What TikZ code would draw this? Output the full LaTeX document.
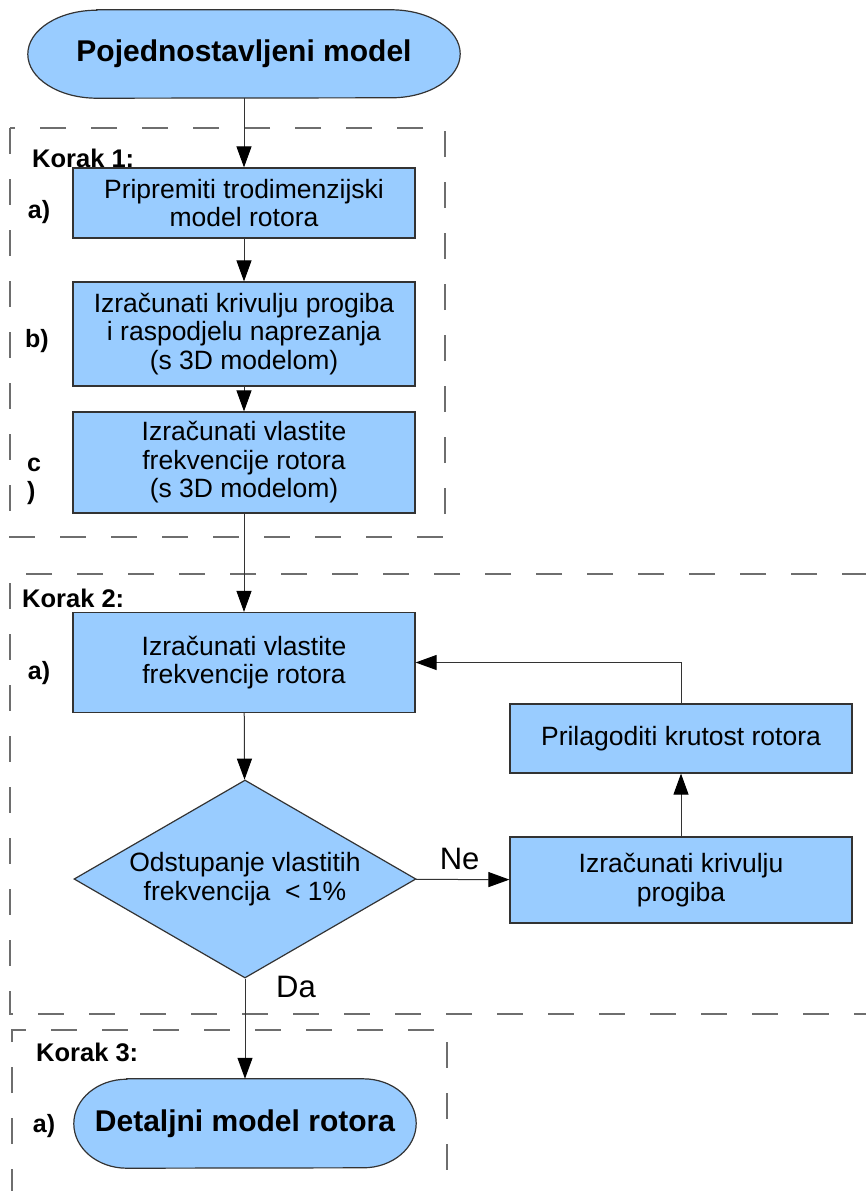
\documentclass[tikz,border=0pt]{standalone}
\usepackage{fontspec}
\setmainfont{Liberation Sans}
\usepackage{tikz}
\usetikzlibrary{arrows.meta, shapes.geometric, backgrounds}
\definecolor{boxblue}{RGB}{153, 204, 255}
\definecolor{edge}{RGB}{51, 51, 51}
\definecolor{dashgray}{RGB}{110, 110, 110}

\begin{document}
\begin{tikzpicture}[x=1pt, y=-1pt,
  box/.style={draw=edge, line width=1.2pt, fill=boxblue, inner sep=0pt, align=center,
    font=\fontsize{26.5}{28.5}\selectfont},
  term/.style={inner sep=0pt, font=\fontsize{30}{34}\selectfont\bfseries},
  termline/.style={draw=edge, line width=1.2pt, fill=boxblue},
  korak/.style={anchor=west, inner sep=0pt, font=\fontsize{25.5}{28}\selectfont\bfseries},
  sub/.style={inner sep=0pt, font=\fontsize{25}{28}\selectfont\bfseries},
  answer/.style={inner sep=0pt, font=\fontsize{31}{34}\selectfont},
  frame/.style={draw=dashgray, line width=1.3pt, dash pattern=on 26pt off 25pt},
  link/.style={draw=edge, line width=1pt, -{Triangle[length=21pt, width=15pt, fill=black, color=black]}}]

  \useasboundingbox (0, 0) rectangle (865, 1191);

  \draw[frame] (10, 128) rectangle (445, 537);
  \draw[frame] (868, 574) -- (10, 574) -- (10, 1014) -- (868, 1014);
  \draw[frame] (12, 1195) -- (12, 1030) -- (447, 1030) -- (447, 1195);

  \node[term, minimum width=432pt, minimum height=88pt] (start) at (244, 54) {Pojednostavljeni model};

  \node[korak] (korak1) at (32, 158) {Korak 1:};
  \node[box, minimum width=342pt, minimum height=70pt] (model3d) at (244, 203) {Pripremiti trodimenzijski\\model rotora};
  \node[sub] (sub1a) at (39, 212) {a)};
  \node[box, minimum width=342pt, minimum height=104pt] (progib3d) at (244, 334) {Izračunati krivulju progiba\\ i raspodjelu naprezanja\\(s 3D modelom)};
  \node[sub] (sub1b) at (37, 341) {b)};
  \node[box, minimum width=342pt, minimum height=101pt] (freq3d) at (244, 462.5) {Izračunati vlastite\\frekvencije rotora\\(s 3D modelom)};
  \node[sub, align=left, anchor=west] (sub1c) at (27, 481) {c\\)};

  \node[korak] (korak2) at (22, 598) {Korak 2:};
  \node[box, minimum width=342pt, minimum height=100pt] (freq) at (244, 662.5) {Izračunati vlastite\\frekvencije rotora};
  \node[sub] (sub2a) at (39, 673) {a)};
  \node[diamond, draw=edge, line width=1.2pt, fill=boxblue, inner sep=0pt, aspect=1.727,
    minimum width=342pt, minimum height=198pt, align=center,
    font=\fontsize{26.5}{28.5}\selectfont] (check) at (245, 879) {Odstupanje vlastitih\\frekvencija~~< 1\%};
  \node[box, minimum width=342pt, minimum height=86pt] (progib) at (681, 880) {Izračunati krivulju\\progiba};
  \node[box, minimum width=342pt, minimum height=69pt] (krutost) at (681, 738.5) {Prilagoditi krutost rotora};

  \node[korak] (korak3) at (36, 1052) {Korak 3:};
  \node[term, minimum width=342pt, minimum height=89pt] (detalj) at (245, 1123.5) {Detaljni model rotora};
  \node[sub] (sub3a) at (44, 1126) {a)};

  \begin{scope}[on background layer]
    \filldraw[termline] ([xshift=69pt]start.north west) -- ([xshift=-69pt]start.north east)
      arc[start angle=90, end angle=-90, x radius=69pt, y radius=44pt]
      -- ([xshift=69pt]start.south west)
      arc[start angle=270, end angle=90, x radius=69pt, y radius=44pt] -- cycle;
    \filldraw[termline] ([xshift=53pt]detalj.north west) -- ([xshift=-53pt]detalj.north east)
      arc[start angle=90, end angle=-90, x radius=53pt, y radius=44.5pt]
      -- ([xshift=53pt]detalj.south west)
      arc[start angle=270, end angle=90, x radius=53pt, y radius=44.5pt] -- cycle;
  \end{scope}

  \draw[link] (start) -- (model3d);
  \draw[link] (model3d) -- (progib3d);
  \draw[link] (progib3d) -- (freq3d);
  \draw[link] (freq3d) -- (freq);
  \draw[link] (freq) -- (check);
  \draw[link] (check) -- node[answer, above=9pt, xshift=-3pt] (ne) {Ne} (progib);
  \draw[link] (progib) -- (krutost);
  \draw[link] (krutost.north) |- (freq.east);
  \draw[link] (check) -- (detalj);
  \node[answer] (da) at (296, 987) {Da};

\end{tikzpicture}
\end{document}
